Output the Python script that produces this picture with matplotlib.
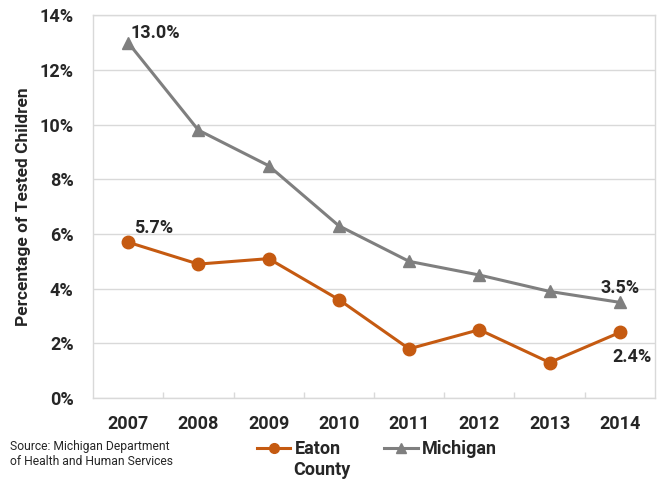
import numpy as np
import matplotlib.pyplot as plt

plt.rcParams['font.family'] = ['Roboto', 'DejaVu Sans']

years = ['2007', '2008', '2009', '2010', '2011', '2012', '2013', '2014']
eaton = [5.7, 4.9, 5.1, 3.6, 1.8, 2.5, 1.3, 2.4]
michigan = [13.0, 9.8, 8.5, 6.3, 5.0, 4.5, 3.9, 3.5]

orange = '#C55A11'
gray = '#7F7F7F'
txt = '#262626'
frame = '#D9D9D9'

fig = plt.figure(figsize=(6.57, 4.79), dpi=100)
ax = fig.add_axes([0.1416, 0.1690, 0.8553, 0.7990])

x = np.arange(len(years))
ax.plot(x, eaton, color=orange, lw=2.2, marker='o', ms=9, label='Eaton')
ax.plot(x, michigan, color=gray, lw=2.2, marker='^', ms=9, label='Michigan')

ax.set_xlim(-0.5, len(years) - 0.5)
ax.set_ylim(0, 14)
ax.set_yticks(np.arange(0, 15, 2))
ax.set_yticklabels([f'{v}%' for v in range(0, 15, 2)])
ax.set_xticks(x)
ax.set_xticklabels(years)
ax.set_xticks(np.arange(0.5, len(years) - 1, 1), minor=True)
ax.tick_params(axis='x', which='major', length=0, pad=12, labelsize=13, labelcolor=txt)
ax.tick_params(axis='x', which='minor', length=4, direction='in', color=frame, width=1)
ax.tick_params(axis='y', length=0, pad=14, labelsize=13, labelcolor=txt)
for lab in ax.get_xticklabels() + ax.get_yticklabels():
    lab.set_fontweight('bold')

ax.grid(axis='y', color=frame, lw=1)
ax.set_axisbelow(True)
for s in ax.spines.values():
    s.set_color(frame)
    s.set_linewidth(1)

ax.set_ylabel('Percentage of Tested Children', fontsize=12.5, fontweight='bold',
              color=txt, labelpad=6)

# data labels
lbl = dict(textcoords='offset points', fontsize=13, fontweight='bold', color=txt)
ax.annotate(f'{michigan[0]:.1f}%', (x[0], michigan[0]), xytext=(2, 3), **lbl)
ax.annotate(f'{eaton[0]:.1f}%', (x[0], eaton[0]), xytext=(4, 7), **lbl)
ax.annotate(f'{michigan[-1]:.1f}%', (x[-1], michigan[-1]), xytext=(0, 7), ha='center', **lbl)
ax.annotate(f'{eaton[-1]:.1f}%', (x[-1], eaton[-1]), xytext=(9, -11), ha='center', va='top', **lbl)

leg = fig.legend(loc='upper left', bbox_to_anchor=(0.391, 0.081), ncol=2, frameon=False,
                 borderpad=0, borderaxespad=0,
                 handlelength=1.85, handletextpad=0.25, columnspacing=2.4,
                 prop={'weight': 'bold', 'size': 13})
for t in leg.get_texts():
    t.set_color(txt)
for h in leg.legend_handles:
    h.set_markersize(7)
fig.text(0.446, 0.008, 'County', fontsize=13, fontweight='bold', color=txt, va='baseline')

fig.text(0.015, 0.052, 'Source: Michigan Department\nof Health and Human Services',
         fontsize=8.7, color=txt, va='center', linespacing=1.2)

fig.savefig('out.png', dpi=100)
